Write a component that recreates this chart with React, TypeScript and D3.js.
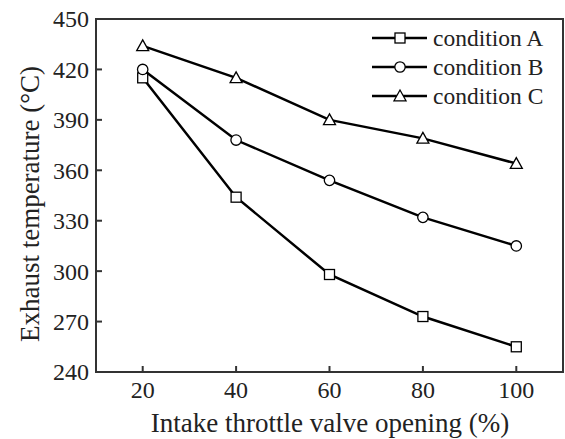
import React from "react";
import * as d3 from "d3";

const xValues = [20, 40, 60, 80, 100];
const seriesA = [415, 344, 298, 273, 255];
const seriesB = [420, 378, 354, 332, 315];
const seriesC = [434, 415, 390, 379, 364];
const seriesNames = ["condition A", "condition B", "condition C"];
const markerTypes = ["square", "circle", "triangle"];
const xTicks = [20, 40, 60, 80, 100];
const yTicks = [240, 270, 300, 330, 360, 390, 420, 450];

const W = 565, H = 439;
const M = { left: 96, top: 19, right: 563, bottom: 372 };
const FONT = "'Liberation Serif', 'Times New Roman', serif";

function Marker({ type, x, y }: { type: string; x: number; y: number }) {
  const st = { fill: "#fff", stroke: "#000", strokeWidth: 1.3 };
  if (type === "square") return <rect x={x - 5} y={y - 5} width={10} height={10} {...st} />;
  if (type === "circle") return <circle cx={x} cy={y} r={5.2} {...st} />;
  const s = 6;
  return <path d={`M${x},${y - s}L${x + s},${y + s * 0.8}L${x - s},${y + s * 0.8}Z`} {...st} />;
}

export default function App() {
  const x = d3.scaleLinear().domain([10, 110]).range([M.left, M.right]);
  const y = d3.scaleLinear().domain([240, 450]).range([M.bottom, M.top]);
  const series = [seriesA, seriesB, seriesC];
  const line = d3.line<number>().x((_, i) => x(xValues[i])).y((d) => y(d));
  const legendY = [38, 67, 96];
  return (
    <svg width={W} height={H} style={{ position: "absolute", left: 0, top: 0, background: "#fff" }}>
      <rect x={M.left} y={M.top} width={M.right - M.left} height={M.bottom - M.top} fill="none" stroke="#333" strokeWidth={2} />
      {yTicks.map((t) => (
        <g key={t}>
          <line x1={M.left} x2={M.left + 6} y1={y(t)} y2={y(t)} stroke="#333" strokeWidth={2} />
          <text x={89} y={y(t)} dy="0.35em" textAnchor="end" fontFamily={FONT} fontSize={24} fill="#222">{t}</text>
        </g>
      ))}
      {xTicks.map((t) => (
        <g key={t}>
          <line x1={x(t)} x2={x(t)} y1={M.bottom} y2={M.bottom - 6} stroke="#333" strokeWidth={2} />
          <text x={x(t)} y={398} textAnchor="middle" fontFamily={FONT} fontSize={24} fill="#222">{t}</text>
        </g>
      ))}
      <text x={330} y={432} textAnchor="middle" fontFamily={FONT} fontSize={27} fill="#222">Intake throttle valve opening (%)</text>
      <text transform={`translate(39,204) rotate(-90)`} textAnchor="middle" fontFamily={FONT} fontSize={27} fill="#222">Exhaust temperature (°C)</text>
      {series.map((s, k) => (
        <g key={k}>
          <path d={line(s) || ""} fill="none" stroke="#000" strokeWidth={2.5} />
          {s.map((v, i) => <Marker key={i} type={markerTypes[k]} x={x(xValues[i])} y={y(v)} />)}
        </g>
      ))}
      {seriesNames.map((n, k) => (
        <g key={n}>
          <line x1={372} x2={427} y1={legendY[k]} y2={legendY[k]} stroke="#000" strokeWidth={2.5} />
          <Marker type={markerTypes[k]} x={400} y={legendY[k]} />
          <text x={433} y={legendY[k]} dy="0.35em" fontFamily={FONT} fontSize={23.5} fill="#222">{n}</text>
        </g>
      ))}
    </svg>
  );
}
